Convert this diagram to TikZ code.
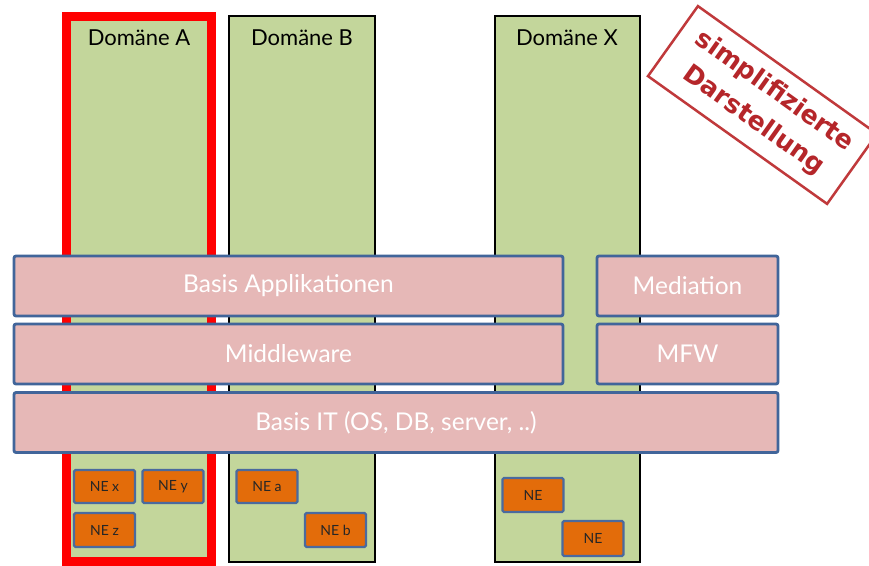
\documentclass[tikz,border=0pt]{standalone}
\usepackage{fontspec}
\setmainfont{Lato}
\newfontfamily\stampfont{DejaVu Sans}
\definecolor{domfill}{HTML}{C3D69B}
\definecolor{barfill}{HTML}{E6B8B7}
\definecolor{barline}{HTML}{41659A}
\definecolor{nefill}{HTML}{E36C0A}
\definecolor{neline}{HTML}{4A6A9E}
\definecolor{stampred}{HTML}{C0393B}
\definecolor{stamptext}{HTML}{B5262A}
\begin{document}
\begin{tikzpicture}[x=1pt,y=-1pt,
  domcol/.style={draw=black,line width=2.5pt,fill=domfill,minimum width=146pt,
    minimum height=546pt,inner sep=0pt},
  domlabel/.style={font=\fontsize{22}{24}\selectfont,text=black},
  layer/.style={draw=barline,line width=2.8pt,fill=barfill,rounded corners=2pt,
    text=white,font=\fontsize{24.5}{27}\selectfont,minimum height=60pt},
  nebox/.style={draw=neline,line width=2.2pt,fill=nefill,rounded corners=1.5pt,
    text=black!85,font=\fontsize{14}{16}\selectfont,minimum width=61pt}]
\useasboundingbox (0,0) rectangle (869,565);
\fill[white] (0,0) rectangle (869,565);

% domain columns
\node[domcol,draw=red,line width=9pt,minimum width=145pt,minimum height=545pt] (colA) at (139,288.75) {};
\node[domlabel] (domA) at (139,38) {Domäne A};
\node[domcol] (colB) at (302,289) {};
\node[domlabel] (domB) at (302,38) {Domäne B};
\node[domcol,minimum width=145pt] (colX) at (567.5,289) {};
\node[domlabel] (domX) at (567,38) {Domäne X};

% shared layers
\node[layer,minimum width=549pt] (apps) at (288.5,286) {Basis Applikationen};
\node[layer,minimum width=181pt] (med) at (687.5,286) {Mediation};
\node[layer,minimum width=549pt] (mw) at (288.5,354) {Middleware};
\node[layer,minimum width=181pt] (mfw) at (687.5,354) {MFW};
\node[layer,minimum width=764pt] (it) at (396,422.5) {Basis IT (OS, DB, server, ..)};

% network elements
\node[nebox,minimum height=33pt] (nex) at (104.5,486.5) {NE x};
\node[nebox,minimum height=33pt] (ney) at (173,486.5) {NE y};
\node[nebox,minimum height=34pt] (nez) at (104.5,530) {NE z};
\node[nebox,minimum height=33pt] (nea) at (267,486.5) {NE a};
\node[nebox,minimum height=34pt] (neb) at (335.5,530) {NE b};
\node[nebox,minimum height=34pt] (ne1) at (533,495) {NE};
\node[nebox,minimum height=35pt] (ne2) at (593,538.5) {NE};

% stamp
\begin{scope}
\clip (0,0) rectangle (869,565);
\node[draw=stampred,line width=2.5pt,fill=white,minimum width=220pt,minimum height=86pt,
  rotate=-35.5,inner sep=0pt] (stamp) at (762.5,105) {};
\node[rotate=-35.5,text=stamptext,align=center,inner sep=0pt,
  font=\stampfont\bfseries\fontsize{25.5}{36}\selectfont] (stamptxt) at (764,106)
  {simplifizierte\\Darstellung};
\end{scope}
\end{tikzpicture}
\end{document}
